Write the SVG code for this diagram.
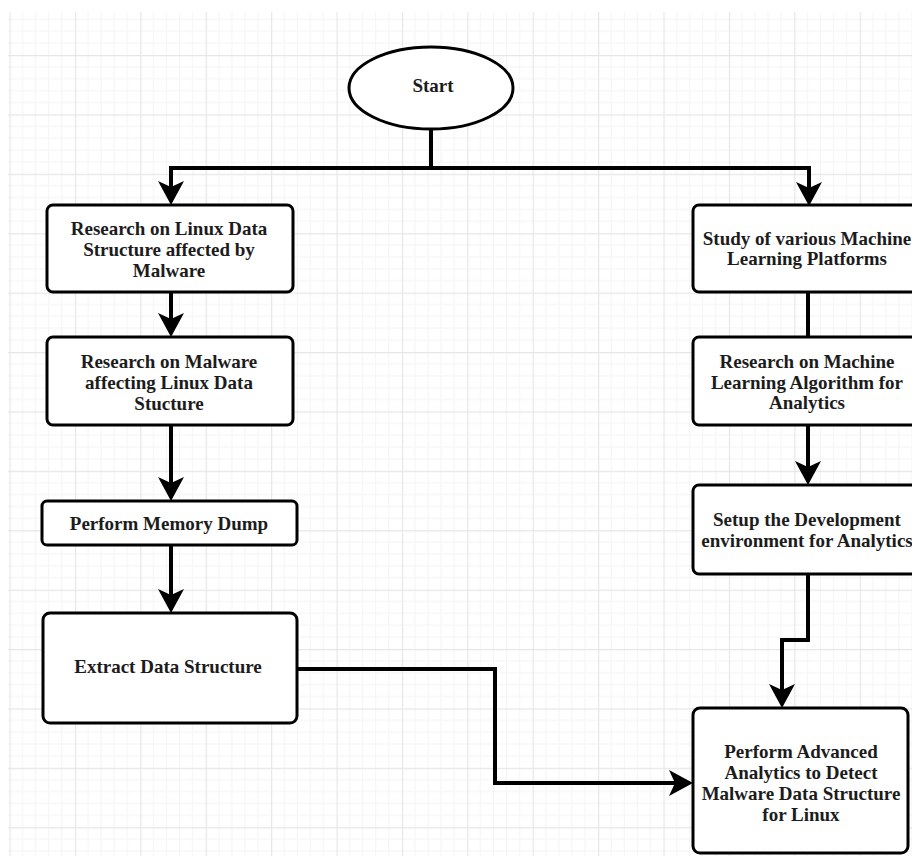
<svg xmlns="http://www.w3.org/2000/svg" width="912" height="856" viewBox="0 0 912 856">
  <style>
    .box { fill: #ffffff; stroke: #000000; stroke-width: 3; }
    .lbl { font-family: "Liberation Serif", "Times New Roman", serif; font-weight: bold; font-size: 19px; fill: #1c1c1c; text-anchor: middle; }
    .conn { fill: none; stroke: #000000; stroke-width: 4; stroke-linejoin: miter; }
  </style>
  <defs>
    <pattern id="grid" patternUnits="userSpaceOnUse" x="9.5" y="55" width="65.4" height="59.4">
      <g stroke="#f4f4f4" stroke-width="1">
        <line x1="13.08" y1="0" x2="13.08" y2="59.4"/>
        <line x1="26.16" y1="0" x2="26.16" y2="59.4"/>
        <line x1="39.24" y1="0" x2="39.24" y2="59.4"/>
        <line x1="52.32" y1="0" x2="52.32" y2="59.4"/>
        <line x1="0" y1="11.88" x2="65.4" y2="11.88"/>
        <line x1="0" y1="23.76" x2="65.4" y2="23.76"/>
        <line x1="0" y1="35.64" x2="65.4" y2="35.64"/>
        <line x1="0" y1="47.52" x2="65.4" y2="47.52"/>
      </g>
      <g stroke="#e6e6e6" stroke-width="1.3">
        <line x1="0.5" y1="0" x2="0.5" y2="59.4"/>
        <line x1="0" y1="0.5" x2="65.4" y2="0.5"/>
      </g>
    </pattern>
    <marker id="arrow" markerUnits="userSpaceOnUse" markerWidth="24" markerHeight="26" viewBox="0 0 24 26" refX="18" refY="13" orient="auto">
      <path d="M0,0 L24,13 L0,26 L6,13 Z" fill="#000000"/>
    </marker>
  </defs>

  <rect x="0" y="0" width="912" height="856" fill="#ffffff"/>
  <rect x="8" y="12" width="904" height="844" fill="url(#grid)"/>

  <g id="connectors">
    <path class="conn" d="M431,129 V168"/>
    <path class="conn" d="M433,168 H171 V199" marker-end="url(#arrow)"/>
    <path class="conn" d="M429,168 H809 V200" marker-end="url(#arrow)"/>
    <path class="conn" d="M171,292 V331" marker-end="url(#arrow)"/>
    <path class="conn" d="M171,425 V495" marker-end="url(#arrow)"/>
    <path class="conn" d="M171,545 V607" marker-end="url(#arrow)"/>
    <path class="conn" d="M297,669 H495 V783 H687" marker-end="url(#arrow)"/>
    <path class="conn" d="M808,292 V337"/>
    <path class="conn" d="M808,425 V479" marker-end="url(#arrow)"/>
    <path class="conn" d="M808,574 V640 H782 V702" marker-end="url(#arrow)"/>
  </g>

  <g id="start">
    <ellipse class="box" cx="431" cy="88" rx="82" ry="41"/>
    <text class="lbl" x="433" y="92">Start</text>
  </g>

  <g id="research-linux">
    <rect class="box" x="47" y="205" width="246" height="87" rx="6"/>
    <text class="lbl" x="169" y="235">Research on Linux Data</text>
    <text class="lbl" x="169" y="256">Structure affected by</text>
    <text class="lbl" x="169" y="277">Malware</text>
  </g>

  <g id="research-malware">
    <rect class="box" x="47" y="337" width="246" height="88" rx="6"/>
    <text class="lbl" x="169" y="368">Research on Malware</text>
    <text class="lbl" x="169" y="389">affecting Linux Data</text>
    <text class="lbl" x="169" y="410">Stucture</text>
  </g>

  <g id="memory-dump">
    <rect class="box" x="42" y="501" width="255" height="44" rx="5"/>
    <text class="lbl" x="169" y="530">Perform Memory Dump</text>
  </g>

  <g id="extract">
    <rect class="box" x="43" y="613" width="254" height="110" rx="7"/>
    <text class="lbl" x="168" y="673">Extract Data Structure</text>
  </g>

  <g id="study-ml">
    <rect class="box" x="693" y="205" width="230" height="87" rx="6"/>
    <text class="lbl" x="807" y="245">Study of various Machine</text>
    <text class="lbl" x="807" y="265">Learning Platforms</text>
  </g>

  <g id="research-ml">
    <rect class="box" x="693" y="337" width="230" height="88" rx="6"/>
    <text class="lbl" x="807" y="368">Research on Machine</text>
    <text class="lbl" x="807" y="389">Learning Algorithm for</text>
    <text class="lbl" x="807" y="409">Analytics</text>
  </g>

  <g id="setup-env">
    <rect class="box" x="693" y="485" width="230" height="89" rx="6"/>
    <text class="lbl" x="807" y="526">Setup the Development</text>
    <text class="lbl" x="807" y="547">environment for Analytics</text>
  </g>

  <g id="advanced-analytics">
    <rect class="box" x="693" y="708" width="215" height="145" rx="7"/>
    <text class="lbl" x="801" y="758">Perform Advanced</text>
    <text class="lbl" x="801" y="779">Analytics to Detect</text>
    <text class="lbl" x="801" y="800">Malware Data Structure</text>
    <text class="lbl" x="801" y="821">for Linux</text>
  </g>
</svg>
